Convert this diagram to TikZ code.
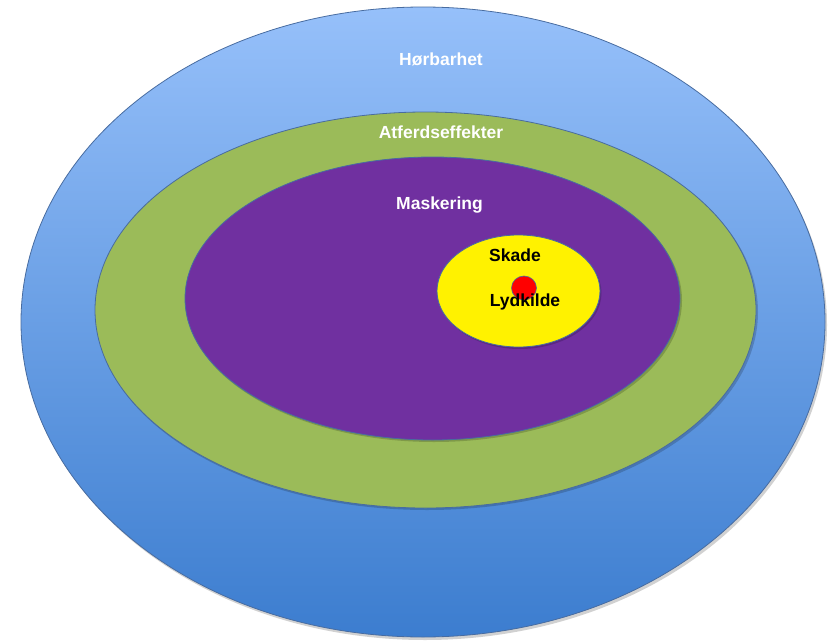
\documentclass[tikz,border=0pt]{standalone}
\usepackage{fontspec}
\setmainfont{Liberation Sans}
\usetikzlibrary{shadings}
\definecolor{bluetop}{RGB}{150,192,250}
\definecolor{bluebot}{RGB}{60,125,207}
\definecolor{edgeblue}{RGB}{72,108,160}
\definecolor{greenfill}{RGB}{155,187,89}
\definecolor{purplefill}{RGB}{112,48,160}
\tikzset{
  ring/.style={draw=edgeblue, line width=0.8pt},
  shadowell/.style={fill=black, opacity=0.18},
  lbl/.style={font=\fontsize{17.5}{20}\selectfont\bfseries, inner sep=0pt},
  whitelbl/.style={lbl, text=white},
  blacklbl/.style={lbl, text=black}
}
\begin{document}
\begin{tikzpicture}[x=1pt,y=-1pt]
\useasboundingbox (0,0) rectangle (835,642);
% outer: Hørbarhet
\fill[shadowell] (425,325) ellipse [x radius=402, y radius=315];
\shade[top color=bluetop, bottom color=bluebot, ring] (423,322) ellipse [x radius=402, y radius=315];
% green: Atferdseffekter
\fill[shadowell] (427,312) ellipse [x radius=331, y radius=198];
\fill[greenfill, ring] (425.5,310) ellipse [x radius=330.5, y radius=198];
% purple: Maskering
\fill[shadowell] (434,300.5) ellipse [x radius=248, y radius=141.5];
\fill[purplefill, ring] (432.5,298.5) ellipse [x radius=247.5, y radius=141.5];
% yellow: Skade
\fill[shadowell] (520,293) ellipse [x radius=81.5, y radius=56];
\fill[yellow, ring] (518.5,291) ellipse [x radius=81.5, y radius=56];
% red source
\fill[red, draw=edgeblue, line width=0.6pt] (524,288) ellipse [x radius=12.5, y radius=12];
% labels
\node[whitelbl] (horbarhet) at (441,59) {Hørbarhet};
\node[whitelbl] (atferd) at (441,132) {Atferdseffekter};
\node[whitelbl] (masker) at (439.5,205) {Maskering};
\node[blacklbl] (skade) at (515,255) {Skade};
\node[blacklbl] (lydkilde) at (525,302) {Lydkilde};
\end{tikzpicture}
\end{document}
